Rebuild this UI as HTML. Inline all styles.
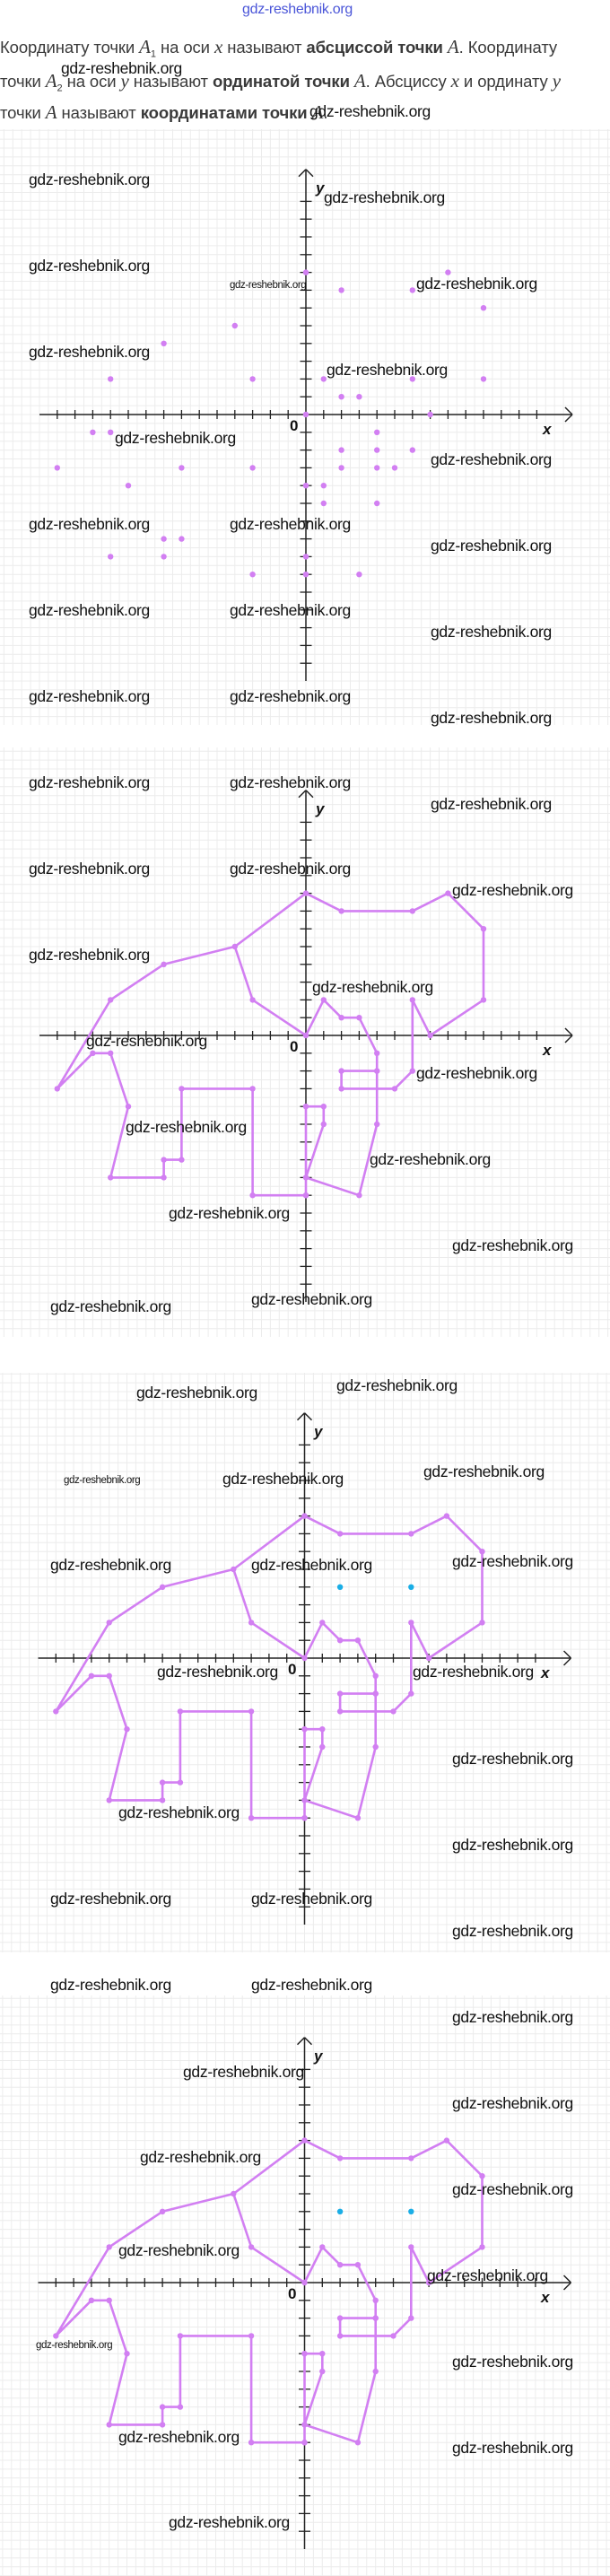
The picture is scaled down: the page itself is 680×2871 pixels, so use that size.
<!DOCTYPE html>
<html><head><meta charset="utf-8">
<style>
html,body{margin:0;padding:0;background:#fff;}
body{width:680px;height:2871px;position:relative;overflow:hidden;font-family:"Liberation Sans",sans-serif;}
.w{position:absolute;font-family:"Liberation Sans",sans-serif;font-size:17.5px;color:#111;white-space:nowrap;line-height:20px;letter-spacing:-0.3px;}
.s{font-size:11.5px;line-height:14px;letter-spacing:-0.4px;}
.t{position:absolute;left:0;font-size:18.5px;color:#3a3a3a;white-space:nowrap;letter-spacing:-0.1px;}
.m{font-family:"Liberation Serif",serif;font-style:italic;font-size:21px;}
.lab{position:absolute;font-size:17px;color:#111;font-style:italic;font-weight:bold;}
svg{position:absolute;left:0;top:0;}
</style></head><body>
<svg id="g" width="680" height="2871"></svg>

<div class="w" style="left:270px;top:1px;color:#4a55d8;font-size:16px;">gdz-reshebnik.org</div>
<div class="t" style="top:40px;">Координату точки <span class="m">A</span><sub style="font-size:11px">1</sub> на оси <span class="m">x</span> называют <b>абсциссой точки</b> <span class="m">A</span>. Координату</div>
<div class="t" style="top:78px;">точки <span class="m">A</span><sub style="font-size:11px">2</sub> на оси <span class="m">y</span> называют <b>ординатой точки</b> <span class="m">A</span>. Абсциссу <span class="m">x</span> и ординату <span class="m">y</span></div>
<div class="t" style="top:113px;">точки <span class="m">A</span> называют <b>координатами точки</b> <span class="m">A</span>.</div>

<div class="lab" style="left:352px;top:200px;">y</div>
<div class="lab" style="left:605px;top:469px;">x</div>
<div class="lab" style="left:323px;top:465px;font-style:normal;">0</div>
<div class="lab" style="left:352px;top:892px;">y</div>
<div class="lab" style="left:605px;top:1161px;">x</div>
<div class="lab" style="left:323px;top:1157px;font-style:normal;">0</div>
<div class="lab" style="left:350px;top:1586px;">y</div>
<div class="lab" style="left:603px;top:1855px;">x</div>
<div class="lab" style="left:321px;top:1851px;font-style:normal;">0</div>
<div class="lab" style="left:350px;top:2282px;">y</div>
<div class="lab" style="left:603px;top:2551px;">x</div>
<div class="lab" style="left:321px;top:2547px;font-style:normal;">0</div>

<div class="w" style="left:68px;top:66px;">gdz-reshebnik.org</div>
<div class="w" style="left:345px;top:114px;">gdz-reshebnik.org</div>
<div class="w" style="left:32px;top:190px;">gdz-reshebnik.org</div>
<div class="w" style="left:361px;top:210px;">gdz-reshebnik.org</div>
<div class="w" style="left:32px;top:286px;">gdz-reshebnik.org</div>
<div class="w s" style="left:256px;top:311px;">gdz-reshebnik.org</div>
<div class="w" style="left:464px;top:306px;">gdz-reshebnik.org</div>
<div class="w" style="left:32px;top:382px;">gdz-reshebnik.org</div>
<div class="w" style="left:364px;top:402px;">gdz-reshebnik.org</div>
<div class="w" style="left:128px;top:478px;">gdz-reshebnik.org</div>
<div class="w" style="left:480px;top:502px;">gdz-reshebnik.org</div>
<div class="w" style="left:32px;top:574px;">gdz-reshebnik.org</div>
<div class="w" style="left:256px;top:574px;">gdz-reshebnik.org</div>
<div class="w" style="left:480px;top:598px;">gdz-reshebnik.org</div>
<div class="w" style="left:32px;top:670px;">gdz-reshebnik.org</div>
<div class="w" style="left:256px;top:670px;">gdz-reshebnik.org</div>
<div class="w" style="left:480px;top:694px;">gdz-reshebnik.org</div>
<div class="w" style="left:32px;top:766px;">gdz-reshebnik.org</div>
<div class="w" style="left:256px;top:766px;">gdz-reshebnik.org</div>
<div class="w" style="left:480px;top:790px;">gdz-reshebnik.org</div>
<div class="w" style="left:32px;top:862px;">gdz-reshebnik.org</div>
<div class="w" style="left:256px;top:862px;">gdz-reshebnik.org</div>
<div class="w" style="left:480px;top:886px;">gdz-reshebnik.org</div>
<div class="w" style="left:32px;top:958px;">gdz-reshebnik.org</div>
<div class="w" style="left:256px;top:958px;">gdz-reshebnik.org</div>
<div class="w" style="left:504px;top:982px;">gdz-reshebnik.org</div>
<div class="w" style="left:32px;top:1054px;">gdz-reshebnik.org</div>
<div class="w" style="left:348px;top:1090px;">gdz-reshebnik.org</div>
<div class="w" style="left:96px;top:1150px;">gdz-reshebnik.org</div>
<div class="w" style="left:464px;top:1186px;">gdz-reshebnik.org</div>
<div class="w" style="left:140px;top:1246px;">gdz-reshebnik.org</div>
<div class="w" style="left:412px;top:1282px;">gdz-reshebnik.org</div>
<div class="w" style="left:188px;top:1342px;">gdz-reshebnik.org</div>
<div class="w" style="left:504px;top:1378px;">gdz-reshebnik.org</div>
<div class="w" style="left:56px;top:1446px;">gdz-reshebnik.org</div>
<div class="w" style="left:280px;top:1438px;">gdz-reshebnik.org</div>
<div class="w" style="left:152px;top:1542px;">gdz-reshebnik.org</div>
<div class="w" style="left:375px;top:1534px;">gdz-reshebnik.org</div>
<div class="w s" style="left:71px;top:1643px;">gdz-reshebnik.org</div>
<div class="w" style="left:248px;top:1638px;">gdz-reshebnik.org</div>
<div class="w" style="left:472px;top:1630px;">gdz-reshebnik.org</div>
<div class="w" style="left:56px;top:1734px;">gdz-reshebnik.org</div>
<div class="w" style="left:280px;top:1734px;">gdz-reshebnik.org</div>
<div class="w" style="left:504px;top:1730px;">gdz-reshebnik.org</div>
<div class="w" style="left:175px;top:1853px;">gdz-reshebnik.org</div>
<div class="w" style="left:460px;top:1853px;">gdz-reshebnik.org</div>
<div class="w" style="left:504px;top:1950px;">gdz-reshebnik.org</div>
<div class="w" style="left:132px;top:2010px;">gdz-reshebnik.org</div>
<div class="w" style="left:504px;top:2046px;">gdz-reshebnik.org</div>
<div class="w" style="left:56px;top:2106px;">gdz-reshebnik.org</div>
<div class="w" style="left:280px;top:2106px;">gdz-reshebnik.org</div>
<div class="w" style="left:504px;top:2142px;">gdz-reshebnik.org</div>
<div class="w" style="left:56px;top:2202px;">gdz-reshebnik.org</div>
<div class="w" style="left:280px;top:2202px;">gdz-reshebnik.org</div>
<div class="w" style="left:504px;top:2238px;">gdz-reshebnik.org</div>
<div class="w" style="left:204px;top:2299px;">gdz-reshebnik.org</div>
<div class="w" style="left:504px;top:2334px;">gdz-reshebnik.org</div>
<div class="w" style="left:156px;top:2394px;">gdz-reshebnik.org</div>
<div class="w" style="left:504px;top:2430px;">gdz-reshebnik.org</div>
<div class="w" style="left:132px;top:2498px;">gdz-reshebnik.org</div>
<div class="w" style="left:476px;top:2526px;">gdz-reshebnik.org</div>
<div class="w s" style="left:40px;top:2607px;">gdz-reshebnik.org</div>
<div class="w" style="left:504px;top:2622px;">gdz-reshebnik.org</div>
<div class="w" style="left:132px;top:2706px;">gdz-reshebnik.org</div>
<div class="w" style="left:504px;top:2718px;">gdz-reshebnik.org</div>
<div class="w" style="left:188px;top:2801px;">gdz-reshebnik.org</div>

<script>
(function(){
var svg=document.getElementById('g'),out='';
var U=19.8;
function L(x1,y1,x2,y2,c,w){out+='<line x1="'+x1+'" y1="'+y1+'" x2="'+x2+'" y2="'+y2+'" stroke="'+c+'" stroke-width="'+w+'"/>';}
function panel(top,bot,ox,oy){
  var h=U/2;
  for(var x=ox%h;x<680;x+=h)L(x.toFixed(1),top,x.toFixed(1),bot,'#ececec',1);
  for(var y=oy-Math.floor((oy-top)/h)*h;y<bot;y+=h)L(0,y.toFixed(1),680,y.toFixed(1),'#ececec',1);
}
function axes(ox,oy){
  var c='#222';
  L(ox-15*U,oy,ox+15*U,oy,c,1.5);
  L(ox,oy-13.8*U,ox,oy+15*U,c,1.5);
  var ax=ox+15*U;L(ax,oy,ax-8,oy-8,c,1.5);L(ax,oy,ax-8,oy+8,c,1.5);
  var ay=oy-13.8*U;L(ox,ay,ox-8,ay+8,c,1.5);L(ox,ay,ox+8,ay+8,c,1.5);
  for(var i=-14;i<=13;i++){if(i==0)continue;L(ox+i*U,oy-5,ox+i*U,oy+5,c,1.3);}
  for(var j=-14;j<=12;j++){if(j==0)continue;L(ox-6.5,oy-j*U,ox+6.5,oy-j*U,c,1.3);}
}
var pc='#d27ff2';
function dot(ox,oy,p,c){out+='<circle cx="'+(ox+p[0]*U).toFixed(1)+'" cy="'+(oy-p[1]*U).toFixed(1)+'" r="3.2" fill="'+(c||pc)+'"/>';}
function poly(ox,oy,pts){var s=pts.map(function(p){return (ox+p[0]*U).toFixed(1)+','+(oy-p[1]*U).toFixed(1);}).join(' ');
  out+='<polyline points="'+s+'" fill="none" stroke="'+pc+'" stroke-width="2.6" stroke-linejoin="round"/>';}
var A=[[0,8],[2,7],[6,7],[8,8],[10,6],[10,2],[7,0],[6,2],[6,-2],[5,-3],[2,-3],[2,-2],[4,-2],[4,-1],[3,1],[2,1],[1,2],[0,0],[-3,2],[-4,5],[-8,4],[-11,2],[-14,-3],[-12,-1],[-11,-1],[-10,-4],[-11,-8],[-8,-8],[-8,-7],[-7,-7],[-7,-3],[-3,-3],[-3,-9],[0,-9]];
var B=[[0,8],[-4,5]];
var C=[[4,-2],[4,-5],[3,-9],[0,-8],[1,-5],[1,-4],[0,-4],[0,-9]];
var P1=[[0,8],[2,7],[6,7],[8,8],[10,6],[-4,5],[-8,4],[-11,2],[-3,2],[1,2],[6,2],[10,2],[2,1],[3,1],[0,0],[7,0],[-12,-1],[-11,-1],[4,-1],[2,-2],[4,-2],[6,-2],[-14,-3],[-7,-3],[-3,-3],[2,-3],[4,-3],[5,-3],[-10,-4],[0,-4],[1,-4],[1,-5],[4,-5],[-8,-7],[-7,-7],[-11,-8],[-8,-8],[0,-8],[-3,-9],[0,-9],[3,-9]];
panel(144,808,341,462);axes(341,462);P1.forEach(function(p){dot(341,462,p);});
var G=[[833,1490,341,1154,0],[1530,2176,339.5,1848,1],[2224,2871,339.5,2544,1]];
G.forEach(function(g){panel(g[0],g[1],g[2],g[3]);axes(g[2],g[3]);
  poly(g[2],g[3],A);poly(g[2],g[3],B);poly(g[2],g[3],C);
  A.concat(C).forEach(function(p){dot(g[2],g[3],p);});
  if(g[4]){dot(g[2],g[3],[2,4],'#1aaee6');dot(g[2],g[3],[6,4],'#1aaee6');}
});
svg.innerHTML=out;
})();
</script>
</body></html>
